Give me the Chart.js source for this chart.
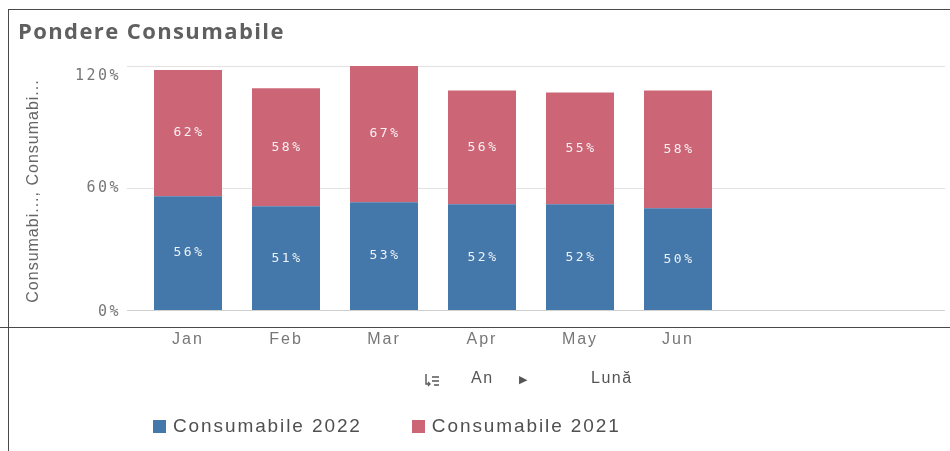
<!DOCTYPE html>
<html>
<head>
<meta charset="utf-8">
<script src="https://cdn.jsdelivr.net/npm/chart.js@4/dist/chart.umd.min.js"></script>
<style>
  html, body { margin: 0; padding: 0; background: #fff; }
  #wrap { position: relative; width: 950px; height: 451px; overflow: hidden; font-family: "Liberation Sans", Arial, sans-serif; }
  #chart { position: absolute; left: 0; top: 0; }
  .line { position: absolute; background: #4a4a4a; z-index: 2; }
  #title { position: absolute; left: 18px; top: 15px; font: bold 22px "Open Sans", sans-serif; letter-spacing: 1.4px; color: #5f5f5f; z-index: 2; }
  #dims { position: absolute; top: 369px; left: 0; width: 950px; height: 22px; font-size: 16px; letter-spacing: 1.5px; color: #555; z-index: 2; }
  #dims span, #dims svg { position: absolute; top: 0; }
  #legend { position: absolute; left: 153px; top: 415px; font-size: 19px; letter-spacing: 1.9px; color: #505050; z-index: 2; display: flex; }
  .item { display: flex; align-items: center; margin-right: 50px; }
  .sw { width: 13px; height: 13px; margin-right: 7px; }
</style>
</head>
<body>
<div id="wrap">
  <canvas id="chart" width="950" height="451"></canvas>
  <div class="line" style="left:8px;top:9px;width:942px;height:1px"></div>
  <div class="line" style="left:8px;top:9px;width:1px;height:442px"></div>
  <div class="line" style="left:0;top:327px;width:950px;height:1px"></div>
  <div id="title">Pondere Consumabile</div>
  <div id="dims">
    <svg style="left:424px;top:3px" width="16" height="16" viewBox="0 0 16 16">
      <path d="M2 2 V12 H6" fill="none" stroke="#555" stroke-width="1.4"/>
      <path d="M4 10 L6 12 L4 14" fill="none" stroke="#555" stroke-width="1.2"/>
      <path d="M8 5 H15 M8 9 H15 M10 13 H15" stroke="#555" stroke-width="1.4"/>
    </svg>
    <span style="left:471px">An</span>
    <span style="left:519px;font-size:11px;top:4px">&#9654;</span>
    <span style="left:591px">Lună</span>
  </div>
  <div id="legend"></div>
</div>
<script>
// Months on the category axis
const months = ['Jan', 'Feb', 'Mar', 'Apr', 'May', 'Jun'];
// Share per month, in percent
const consumabile2022 = [56, 51, 53, 52, 52, 50];
const consumabile2021 = [62, 58, 67, 56, 55, 58];
// Value axis
const yTicks = [0, 60, 120];
const yTitle = 'Consumabi..., Consumabi...';
const seriesNames = ['Consumabile 2022', 'Consumabile 2021'];
const seriesColors = ['#4477aa', '#cc6677'];

// Wider tracking for the month labels drawn by the library
const spacingPlugin = {
  id: 'tracking',
  beforeDraw(chart) { chart.ctx.letterSpacing = '2px'; }
};

// Horizontal grid lines run past the last month across the panel
const gridPlugin = {
  id: 'wideGrid',
  beforeDatasetsDraw(chart) {
    const { ctx } = chart;
    const y = chart.scales.y;
    ctx.save();
    y.ticks.forEach(t => {
      const py = Math.round(y.getPixelForValue(t.value)) + 0.5;
      ctx.strokeStyle = t.value === 0 ? '#cfcfcf' : '#e2e2e2';
      ctx.lineWidth = 1;
      ctx.beginPath();
      ctx.moveTo(127, py);
      ctx.lineTo(945, py);
      ctx.stroke();
    });
    ctx.restore();
  }
};

// Y tick labels (the top one sits just below its grid line) and the axis title
const yLabelPlugin = {
  id: 'yLabels',
  afterDraw(chart) {
    const { ctx, chartArea } = chart;
    const y = chart.scales.y;
    const last = y.ticks.length - 1;
    ctx.save();
    ctx.font = '15px "DejaVu Sans Mono", monospace';
    ctx.letterSpacing = '2.5px';
    ctx.fillStyle = '#777';
    ctx.textAlign = 'right';
    ctx.textBaseline = 'middle';
    y.ticks.forEach((t, i) => {
      let py = y.getPixelForValue(t.value);
      if (i === last) py += 10;
      if (i === 0) py += 2;
      ctx.fillText(t.value + '%', 121, py);
    });
    ctx.restore();

    ctx.save();
    ctx.font = '16px "Liberation Sans", Arial';
    ctx.letterSpacing = '1px';
    ctx.fillStyle = '#666';
    ctx.textAlign = 'center';
    ctx.textBaseline = 'middle';
    ctx.translate(34, (chartArea.top + chartArea.bottom) / 2 + 3);
    ctx.rotate(-Math.PI / 2);
    ctx.fillText(yTitle, 0, 0);
    ctx.restore();
  }
};

// Percent labels centred in each stacked segment
const valueLabelPlugin = {
  id: 'valueLabels',
  afterDatasetsDraw(chart) {
    const { ctx } = chart;
    ctx.save();
    ctx.font = '13px "DejaVu Sans Mono", monospace';
    ctx.letterSpacing = '2.5px';
    ctx.fillStyle = 'rgba(255,255,255,0.9)';
    ctx.textAlign = 'center';
    ctx.textBaseline = 'middle';
    chart.data.datasets.forEach((ds, di) => {
      chart.getDatasetMeta(di).data.forEach((bar, i) => {
        ctx.fillText(ds.data[i] + '%', bar.x + 1, (bar.y + bar.base) / 2);
      });
    });
    ctx.restore();
  }
};

new Chart(document.getElementById('chart'), {
  type: 'bar',
  data: {
    labels: months,
    datasets: [
      { label: seriesNames[0], data: consumabile2022, backgroundColor: seriesColors[0] },
      { label: seriesNames[1], data: consumabile2021, backgroundColor: seriesColors[1] }
    ]
  },
  options: {
    responsive: false,
    animation: false,
    events: [],
    layout: { padding: { left: 14, right: 223, top: 66, bottom: 0 } },
    datasets: { bar: { categoryPercentage: 1, barPercentage: 0.694, borderWidth: 0 } },
    plugins: { legend: { display: false }, tooltip: { enabled: false } },
    scales: {
      x: {
        stacked: true,
        grid: { display: false },
        border: { display: false },
        ticks: { color: '#777', font: { family: '"Liberation Sans", Arial', size: 16 }, padding: 12 },
        afterFit(s) { s.height = 141; }
      },
      y: {
        stacked: true,
        min: 0,
        max: 120,
        afterBuildTicks(s) { s.ticks = yTicks.map(v => ({ value: v })); },
        grid: { display: false },
        border: { display: false },
        ticks: { display: false },
        afterFit(s) { s.width = 125; }
      }
    }
  },
  plugins: [spacingPlugin, gridPlugin, yLabelPlugin, valueLabelPlugin]
});

// Legend built from the same series names and colours
const legend = document.getElementById('legend');
seriesNames.forEach((name, i) => {
  const item = document.createElement('div');
  item.className = 'item';
  const sw = document.createElement('div');
  sw.className = 'sw';
  sw.style.background = seriesColors[i];
  const label = document.createElement('span');
  label.textContent = name;
  item.appendChild(sw);
  item.appendChild(label);
  legend.appendChild(item);
});
</script>
</body>
</html>
